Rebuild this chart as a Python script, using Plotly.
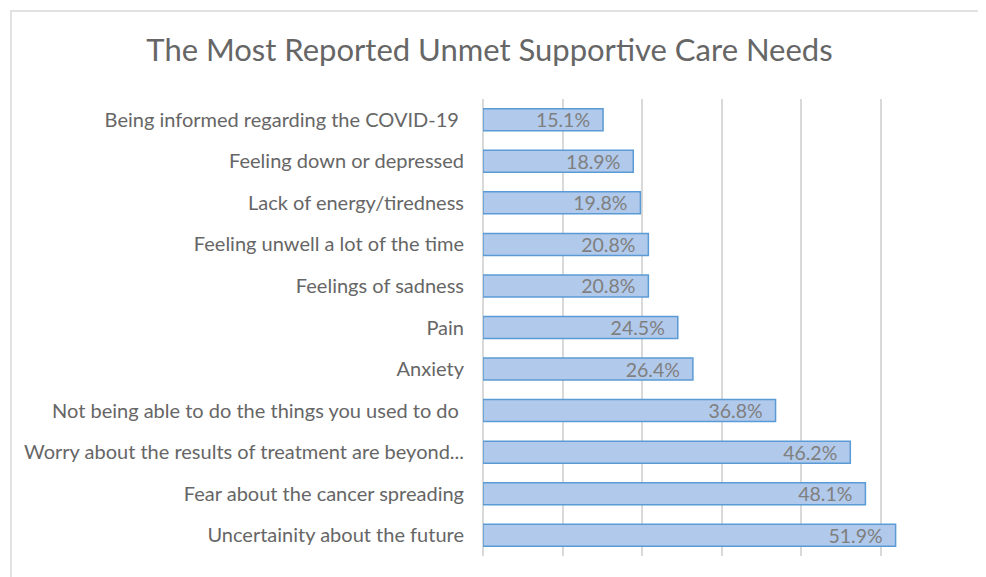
import plotly.graph_objects as go

categories = [
    "Being informed regarding the COVID-19\u00a0",
    "Feeling down or depressed",
    "Lack of energy/tiredness",
    "Feeling unwell a lot of the time",
    "Feelings of sadness",
    "Pain",
    "Anxiety",
    "Not being able to do the things you used to do\u00a0",
    "Worry about the results of treatment are beyond...",
    "Fear about the cancer spreading",
    "Uncertainity about the future",
]
values = [15.1, 18.9, 19.8, 20.8, 20.8, 24.5, 26.4, 36.8, 46.2, 48.1, 51.9]
title_text = "The Most Reported Unmet Supportive Care Needs"

OFF = 8  # default body margin of the page
W, H = 986 - OFF, 577 - OFF
L, T = 483 - OFF, 99 - OFF
pw, ph = 477, 457
R = W - L - pw
B = H - T - ph

fig = go.Figure(
    go.Bar(
        x=values,
        y=categories,
        orientation="h",
        marker=dict(color="#b1c9ea", line=dict(color="#5b9bd5", width=1.5)),
        texttemplate="%{x:.1f}%\u00a0\u00a0",
        textposition="inside",
        insidetextanchor="end",
        textfont=dict(family="Lato, Open Sans, sans-serif", size=19.5, color="#7f7f7f"),
        constraintext="none",
        cliponaxis=False,
        hoverinfo="skip",
    )
)

fig.update_layout(
    width=W,
    height=H,
    margin=dict(l=L, r=R, t=T, b=B, autoexpand=False),
    paper_bgcolor="white",
    plot_bgcolor="white",
    bargap=0.47,
    showlegend=False,
    title=dict(
        text=title_text,
        x=(489.5 - OFF) / W,
        xanchor="center",
        y=1 - (50 - OFF) / H,
        yanchor="middle",
        font=dict(family="Lato, Open Sans, sans-serif", size=31, color="#666666"),
    ),
    shapes=[
        dict(
            type="rect",
            xref="paper",
            yref="paper",
            x0=(11 - 483) / pw,
            x1=(986 + 5 - 483) / pw,
            y0=-(B + 5) / ph,
            y1=(556 - 11) / ph,
            line=dict(color="#d9d9d9", width=1.5),
            fillcolor="rgba(0,0,0,0)",
            layer="below",
        )
    ],
)

fig.update_xaxes(
    range=[0, 60],
    dtick=10,
    showticklabels=False,
    showgrid=True,
    gridcolor="#d9d9d9",
    gridwidth=1.5,
    zeroline=True,
    zerolinecolor="#d9d9d9",
    zerolinewidth=1.5,
    showline=False,
    fixedrange=True,
)
fig.update_yaxes(
    autorange="reversed",
    showgrid=False,
    showline=False,
    ticks="",
    ticklabelstandoff=18,
    tickfont=dict(family="Lato, Open Sans, sans-serif", size=20, color="#666666"),
    fixedrange=True,
)

fig.write_html("out.html", config={"displayModeBar": False})
